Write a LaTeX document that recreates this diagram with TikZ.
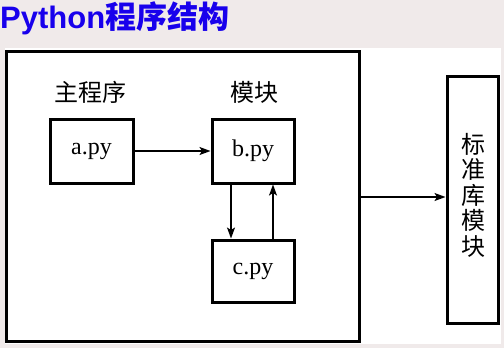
\documentclass[tikz,border=0pt]{standalone}
\usepackage{fontspec}
\setmainfont{Liberation Serif}
\newfontfamily\cjk{Noto Sans CJK SC}
\newfontfamily\titlelatin{Liberation Sans}
\usetikzlibrary{arrows.meta}
\definecolor{bgpink}{RGB}{240,234,234}
\definecolor{titleblue}{RGB}{24,0,236}
\tikzset{
  box/.style={draw=black, line width=3bp, fill=white, inner sep=0pt},
  arr/.style={line width=1.4bp, -{Stealth[length=11bp,width=8bp,inset=2.5bp]}},
  lbl/.style={font=\fontsize{24bp}{26bp}\selectfont\cjk, inner sep=0pt},
  pyt/.style={font=\fontsize{24bp}{26bp}\selectfont, inner sep=0pt},
}
\begin{document}
\begin{tikzpicture}[x=1bp,y=-1bp]
\fill[bgpink] (0,0) rectangle (504,348);
\useasboundingbox (0,0) rectangle (504,348);
\fill[white] (5,48) rectangle (501,344);
\node[anchor=base west, inner sep=0pt, text=titleblue, font=\fontsize{31bp}{33bp}\selectfont\bfseries] (title) at (0,28) {{\titlelatin Python}{\cjk 程序结构}};
\node[box, minimum width=352bp, minimum height=290bp] (outer) at (183,196) {};
\node[box, minimum width=83bp, minimum height=64bp, pyt] (a) at (91.5,151) {a.py};
\node[box, minimum width=82bp, minimum height=64bp, pyt] (b) at (253,151) {b.py};
\node[box, minimum width=82bp, minimum height=62bp, pyt] (c) at (253,271) {c.py};
\node[box, minimum width=51bp, minimum height=247bp] (std) at (472.5,199.5) {};
\node[lbl, align=center, font=\fontsize{24bp}{25.5bp}\selectfont\cjk] (stdt) at (473,195) {标\\准\\库\\模\\块};
\node[lbl] (main) at (90,92) {主程序};
\node[lbl] (mod) at (254,92) {模块};
\draw[arr] (a.east) -- (b.west);
\draw[arr] ([xshift=-22bp]b.south) -- ([xshift=-22bp]c.north);
\draw[arr] ([xshift=20bp]c.north) -- ([xshift=20bp]b.south);
\draw[arr] ([yshift=-1bp]outer.east) -- ([yshift=-1bp]outer.east -| std.west);
\end{tikzpicture}
\end{document}
